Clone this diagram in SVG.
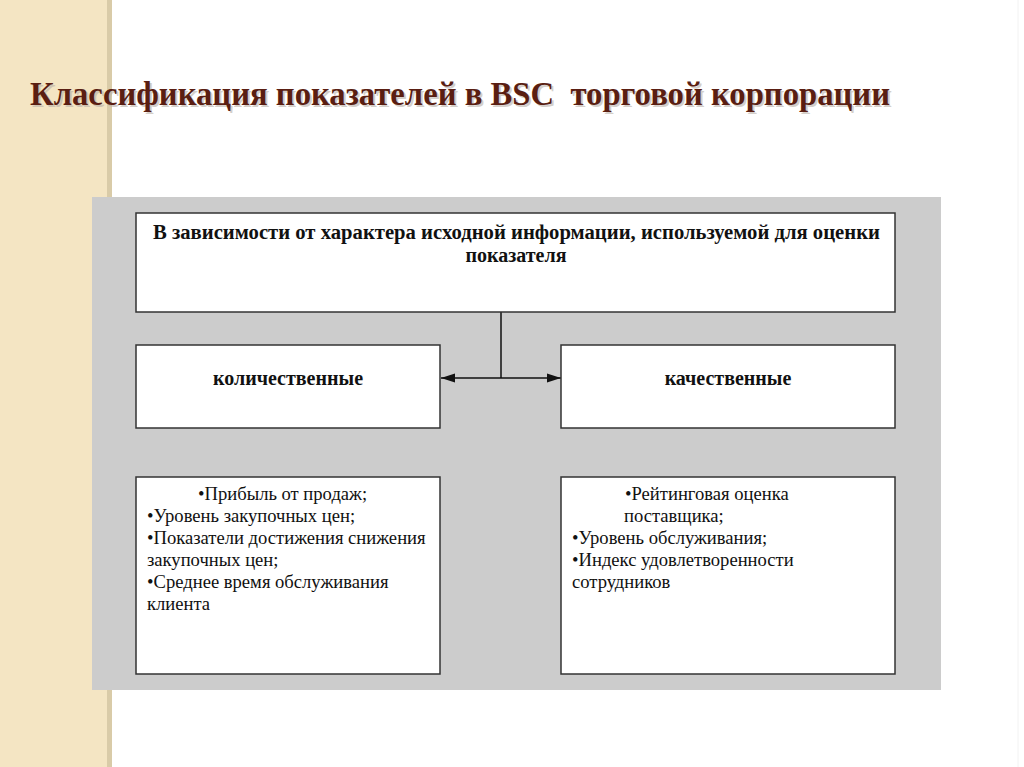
<svg xmlns="http://www.w3.org/2000/svg" width="1024" height="767" viewBox="0 0 1024 767">
  <style>
    .box { fill: #ffffff; stroke: #333333; stroke-width: 1.5; }
    .title { font-family: "Liberation Serif", "Times New Roman", serif; font-weight: bold; font-size: 33px; fill: #5a1e12; white-space: pre; }
    .shadow { font-family: "Liberation Serif", "Times New Roman", serif; font-weight: bold; font-size: 33px; fill: #b8b0a8; opacity: 0.6; white-space: pre; }
    .hdr { font-family: "Liberation Serif", "Times New Roman", serif; font-weight: bold; font-size: 20px; fill: #111111; }
    .lbl { font-family: "Liberation Serif", "Times New Roman", serif; font-weight: bold; font-size: 20px; fill: #111111; text-anchor: middle; }
    .item { font-family: "Liberation Serif", "Times New Roman", serif; font-size: 18.6px; fill: #111111; }
    .conn { stroke: #111111; stroke-width: 1.5; fill: none; }
  </style>
  <defs>
    <marker id="arr" viewBox="0 0 14 10" refX="14" refY="5" markerWidth="14" markerHeight="10" orient="auto-start-reverse" markerUnits="userSpaceOnUse">
      <path d="M0,0.5 L14,5 L0,9.5 z" fill="#111111"/>
    </marker>
  </defs>
  <rect x="0" y="0" width="1024" height="767" fill="#ffffff"/>
  <rect x="0" y="0" width="107" height="767" fill="#f4e5c3"/>
  <rect x="107" y="0" width="5" height="767" fill="#d9cba8"/>
  <line x1="1018" y1="0" x2="1018" y2="767" stroke="#f2f2f2" stroke-width="1"/>

  <g id="title">
    <text class="shadow" x="32" y="107" textLength="860" lengthAdjust="spacingAndGlyphs" xml:space="preserve">Классификация показателей в BSC  торговой корпорации</text>
    <text class="title" x="30" y="105" textLength="860" lengthAdjust="spacingAndGlyphs" xml:space="preserve">Классификация показателей в BSC  торговой корпорации</text>
  </g>

  <rect id="panel" x="92" y="197" width="849" height="493" fill="#cccccc"/>

  <g id="connectors">
    <line class="conn" x1="501" y1="312" x2="501" y2="378"/>
    <line class="conn" x1="441" y1="378" x2="561" y2="378" marker-start="url(#arr)" marker-end="url(#arr)"/>
  </g>

  <g id="node-top">
    <rect class="box" x="136" y="213" width="759" height="99"/>
    <text class="hdr" x="153" y="239" textLength="727" lengthAdjust="spacingAndGlyphs">В зависимости от характера исходной информации, используемой для оценки</text>
    <text class="hdr" x="516" y="262" text-anchor="middle">показателя</text>
  </g>

  <g id="node-quant">
    <rect class="box" x="136" y="345" width="304" height="83"/>
    <text class="lbl" x="288" y="385">количественные</text>
  </g>

  <g id="node-qual">
    <rect class="box" x="561" y="345" width="334" height="83"/>
    <text class="lbl" x="728" y="385">качественные</text>
  </g>

  <g id="node-quant-list">
    <rect class="box" x="136" y="477" width="304" height="197"/>
    <text class="item" x="198" y="500">•Прибыль от продаж;</text>
    <text class="item" x="147" y="522">•Уровень закупочных цен;</text>
    <text class="item" x="147" y="544">•Показатели достижения снижения</text>
    <text class="item" x="147" y="566">закупочных цен;</text>
    <text class="item" x="147" y="588">•Среднее время обслуживания</text>
    <text class="item" x="147" y="610">клиента</text>
  </g>

  <g id="node-qual-list">
    <rect class="box" x="561" y="477" width="334" height="197"/>
    <text class="item" x="625" y="500">•Рейтинговая оценка</text>
    <text class="item" x="624" y="522">поставщика;</text>
    <text class="item" x="572" y="544">•Уровень обслуживания;</text>
    <text class="item" x="572" y="566">•Индекс удовлетворенности</text>
    <text class="item" x="572" y="588">сотрудников</text>
  </g>
</svg>
